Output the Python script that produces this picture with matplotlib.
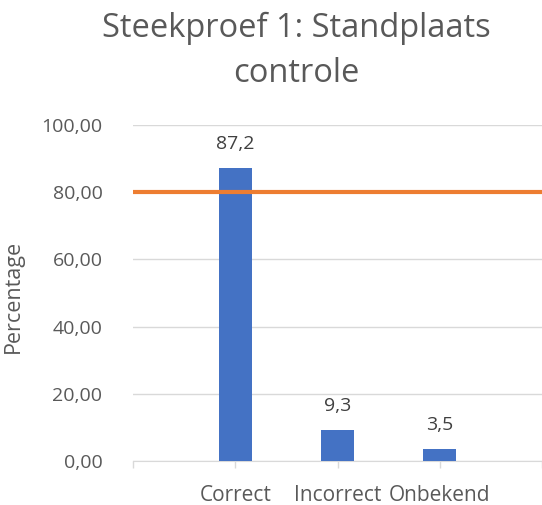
import matplotlib
matplotlib.use("Agg")
import matplotlib.pyplot as plt

categories = ["Correct", "Incorrect", "Onbekend"]
values = [87.2, 9.3, 3.5]
value_labels = ["87,2", "9,3", "3,5"]
target = 80
yticks = [0, 20, 40, 60, 80, 100]
ytick_labels = ["0,00", "20,00", "40,00", "60,00", "80,00", "100,00"]

plt.rcParams['font.family'] = ['Open Sans', 'DejaVu Sans']
txt = '#595959'

fig = plt.figure(figsize=(5.42, 5.05), dpi=100)
ax = fig.add_axes([133/542, 1-461/505, (542-133)/542, (461-125)/505])

pos = [1, 2, 3]
ax.bar(pos, values, width=0.32, color='#4472C4', zorder=3)
for p, v, l in zip(pos, values, value_labels):
    ax.annotate(l, (p, v), xytext=(0, 13.5), textcoords='offset points',
                ha='center', va='baseline', fontsize=14, color='#404040')
ax.axhline(target, color='#ED7D31', lw=3, zorder=4)

ax.set_xlim(0, 4)
ax.set_ylim(0, 100)
ax.set_yticks(yticks)
ax.set_yticklabels(ytick_labels, fontsize=14, color=txt)
ax.set_xticks([0, 1, 2, 3, 4])
ax.set_xticklabels([""] + categories + [""], fontsize=15, color=txt)
ax.tick_params(axis='y', length=0, pad=22)
ax.tick_params(axis='x', length=5, color='#d9d9d9', pad=12, width=1)
ax.grid(axis='y', color='#d9d9d9', lw=1, zorder=0)
for s in ['top', 'right', 'left']:
    ax.spines[s].set_visible(False)
ax.spines['bottom'].set_color('#d9d9d9')
ax.set_ylabel("Percentage", fontsize=15.5, color=txt)
ax.yaxis.set_label_coords((24-133)/(542-133), (461-296)/(461-125))

fig.text(296/542, 1-37/505, "Steekproef 1: Standplaats", ha='center', va='baseline',
         fontsize=23.5, color=txt)
fig.text(296/542, 1-82/505, "controle", ha='center', va='baseline',
         fontsize=23.5, color=txt)

fig.savefig("out.png", dpi=100)
